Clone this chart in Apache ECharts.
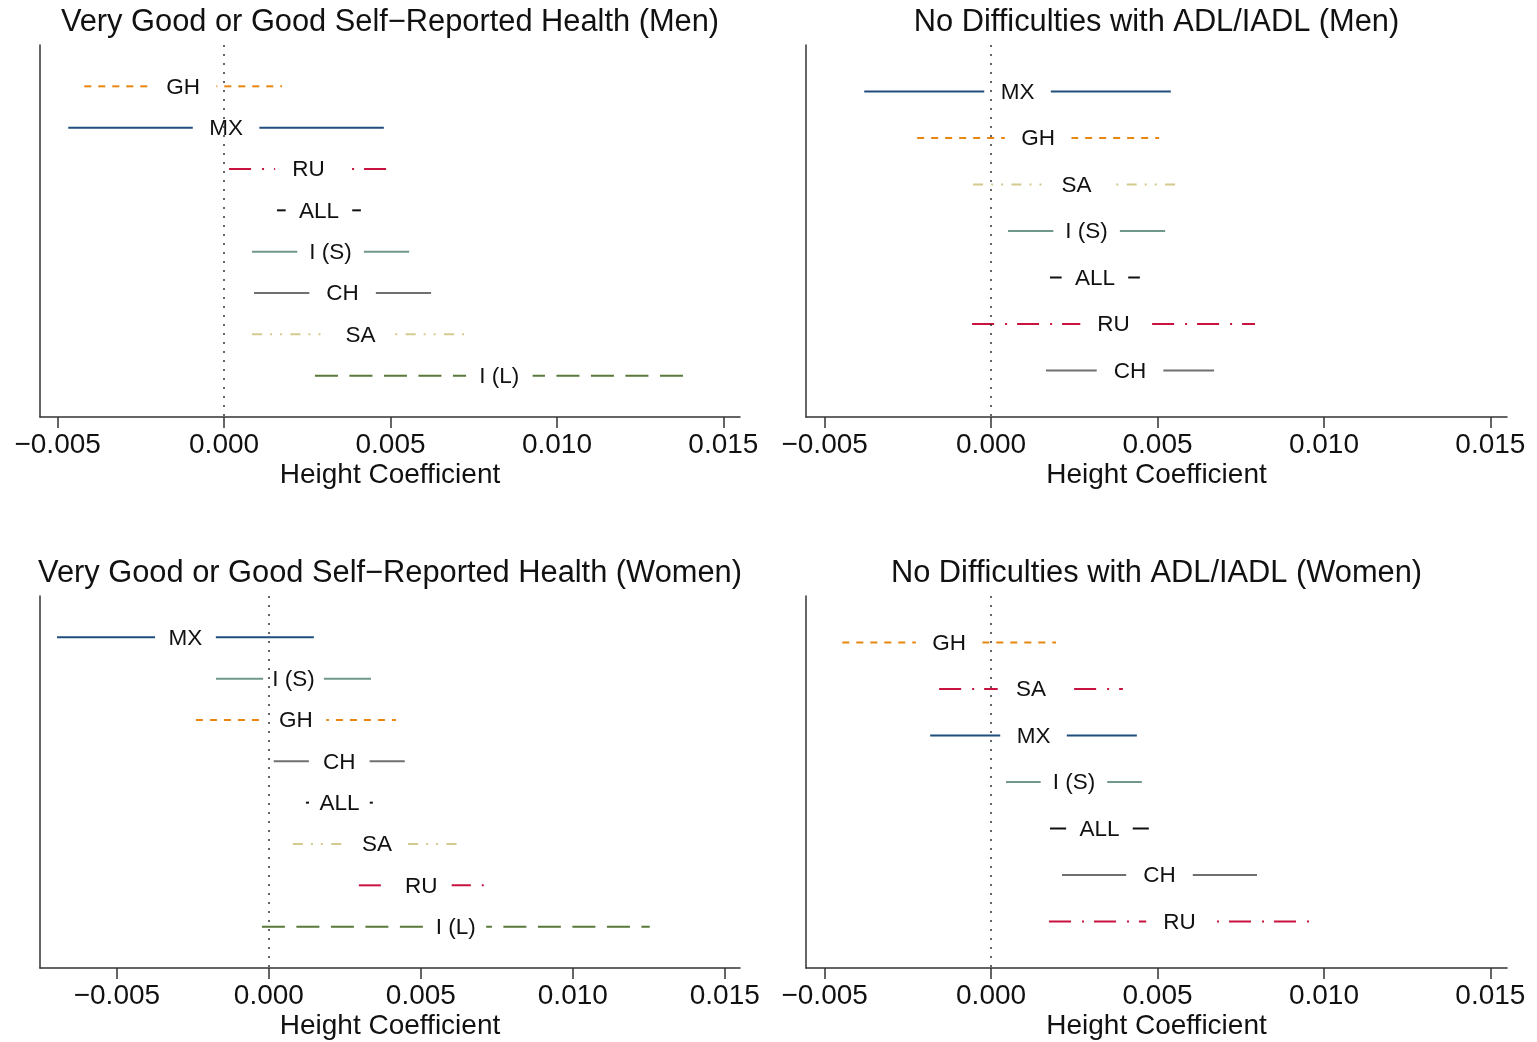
<!DOCTYPE html>
<html>
<head>
<meta charset="utf-8">
<script src="https://cdn.jsdelivr.net/npm/echarts@6/dist/echarts.min.js"></script>
<style>
  html, body { margin: 0; padding: 0; background: #fff; }
  #main { width: 1537px; height: 1042px; }
</style>
</head>
<body>
<div id="main"></div>
<script>
// confidence intervals of the height coefficient, one row per country
var hMenLabels = ["GH", "MX", "RU", "ALL", "I (S)", "CH", "SA", "I (L)"];
var hMenLo = [-0.0042, -0.00468, 0.00015, 0.00159, 0.00084, 0.0009, 0.00084, 0.00273];
var hMenHi = [0.00174, 0.0048, 0.00492, 0.00411, 0.00556, 0.00622, 0.00736, 0.01381];

var adlMenLabels = ["MX", "GH", "SA", "I (S)", "ALL", "RU", "CH"];
var adlMenLo = [-0.00381, -0.00222, -0.00054, 0.00051, 0.00177, -0.00057, 0.00165];
var adlMenHi = [0.0054, 0.00505, 0.00568, 0.00523, 0.00447, 0.00793, 0.0067];

var hWomenLabels = ["MX", "I (S)", "GH", "CH", "ALL", "SA", "RU", "I (L)"];
var hWomenLo = [-0.00697, -0.00174, -0.0024, 0.00016, 0.00122, 0.00079, 0.00296, -0.00023];
var hWomenHi = [0.00148, 0.00336, 0.00418, 0.00447, 0.00342, 0.00632, 0.00707, 0.01253];

var adlWomenLabels = ["GH", "SA", "MX", "I (S)", "ALL", "CH", "RU"];
var adlWomenLo = [-0.00447, -0.00156, -0.00183, 0.00045, 0.00177, 0.00213, 0.00174];
var adlWomenHi = [0.00195, 0.00396, 0.00438, 0.00453, 0.00474, 0.00799, 0.00958];

var xTicks = [-0.005, 0, 0.005, 0.01, 0.015];

var FONT = "'Liberation Sans', Arial, sans-serif";
var GAP = 0.001; // half width of the hole left for the label

var styles = {
  GH: { color: "#E8860F", dash: [7, 7] },
  MX: { color: "#1F4D7C", dash: null },
  RU: { color: "#C8123F", dash: [22, 11, 2, 10] },
  ALL: { color: "#111111", dash: null },
  "I (S)": { color: "#6F978B", dash: null },
  CH: { color: "#707070", dash: null },
  SA: { color: "#D4CA8E", dash: [10, 8, 2, 8, 2, 8.4] },
  "I (L)": { color: "#58793A", dash: [23, 11.5] }
};

var panels = [
  { title: "Very Good or Good Self\u2212Reported Health (Men)", labels: hMenLabels, lo: hMenLo, hi: hMenHi,
    left: 40, top: 45, width: 700, min: -0.00553, max: 0.0155 },
  { title: "No Difficulties with ADL/IADL (Men)", labels: adlMenLabels, lo: adlMenLo, hi: adlMenHi,
    left: 806, top: 45, width: 701, min: -0.00556, max: 0.0155 },
  { title: "Very Good or Good Self\u2212Reported Health (Women)", labels: hWomenLabels, lo: hWomenLo, hi: hWomenHi,
    left: 40, top: 596, width: 700, min: -0.00753, max: 0.0155 },
  { title: "No Difficulties with ADL/IADL (Women)", labels: adlWomenLabels, lo: adlWomenLo, hi: adlWomenHi,
    left: 806, top: 596, width: 701, min: -0.00556, max: 0.0155,
    styleKeys: ["GH", "RU", "MX", "I (S)", "ALL", "CH", "RU"] } // SA drawn like RU in this panel
];

function makeRender(p) {
  return function (params, api) {
    var i = params.dataIndex;
    var row = api.value(0), lo = api.value(1), hi = api.value(2);
    var mid = (lo + hi) / 2;
    var st = styles[p.styleKeys ? p.styleKeys[i] : p.labels[i]];
    var a = api.coord([lo, row]);
    var b = api.coord([Math.max(lo, mid - GAP), row]);
    var c = api.coord([Math.min(hi, mid + GAP), row]);
    var d = api.coord([hi, row]);
    var m = api.coord([mid, row]);
    var base = { stroke: st.color, lineWidth: 2, lineCap: "butt", lineDash: st.dash };
    var kids = [];
    if (b[0] - a[0] > 0.5) {
      kids.push({ type: "line", shape: { x1: a[0], y1: a[1], x2: b[0], y2: b[1] },
        style: Object.assign({}, base, { lineDashOffset: 0 }) });
    } else {
      kids.push({ type: "line", shape: { x1: a[0], y1: a[1], x2: a[0] + 1.5, y2: a[1] },
        style: Object.assign({}, base, { lineDash: null }) });
    }
    if (d[0] - c[0] > 0.5) {
      kids.push({ type: "line", shape: { x1: c[0], y1: c[1], x2: d[0], y2: d[1] },
        style: Object.assign({}, base, { lineDashOffset: c[0] - a[0] }) });
    } else {
      kids.push({ type: "line", shape: { x1: d[0] - 1.5, y1: d[1], x2: d[0], y2: d[1] },
        style: Object.assign({}, base, { lineDash: null }) });
    }
    kids.push({ type: "text", x: m[0], y: m[1] + 1,
      style: { text: p.labels[i], fill: "#111", fontSize: 22.5, fontFamily: FONT,
        align: "center", verticalAlign: "middle" } });
    return { type: "group", children: kids };
  };
}

var option = { animation: false, backgroundColor: "#fff",
  title: [], grid: [], xAxis: [], yAxis: [], series: [] };

panels.forEach(function (p, k) {
  var n = p.labels.length;
  option.title.push({
    text: p.title, left: p.left + p.width / 2, top: p.top - 39, textAlign: "center", padding: 0,
    textStyle: { fontFamily: FONT, fontSize: 30.8, fontWeight: "normal", color: "#111", lineHeight: 34 }
  });
  option.grid.push({ left: p.left, top: p.top, width: p.width, height: 372 });
  option.xAxis.push({
    type: "value", gridIndex: k, min: p.min, max: p.max,
    name: "Height Coefficient", nameLocation: "middle", nameGap: 44,
    nameTextStyle: { fontFamily: FONT, fontSize: 28, color: "#111" },
    axisLine: { show: true, onZero: false, lineStyle: { color: "#333", width: 1.5 } },
    axisTick: { show: true, length: 11, customValues: xTicks, lineStyle: { color: "#333", width: 1.5 } },
    axisLabel: { customValues: xTicks, margin: 14, fontFamily: FONT, fontSize: 28, color: "#111",
      formatter: function (v) { return (v < 0 ? "\u2212" : "") + Math.abs(v).toFixed(3); } },
    splitLine: { show: false }
  });
  option.yAxis.push({
    type: "value", gridIndex: k, min: 0, max: n + 1, inverse: true,
    axisLine: { show: true, onZero: false, lineStyle: { color: "#333", width: 1.5 } },
    axisTick: { show: false }, axisLabel: { show: false }, splitLine: { show: false }
  });
  option.series.push({
    type: "line", xAxisIndex: k, yAxisIndex: k, data: [], silent: true,
    markLine: { symbol: "none", silent: true, label: { show: false },
      lineStyle: { color: "#333", width: 1.5, type: [2, 7] },
      data: [{ xAxis: 0 }] }
  });
  option.series.push({
    type: "custom", xAxisIndex: k, yAxisIndex: k, clip: false,
    renderItem: makeRender(p),
    encode: { x: [1, 2], y: 0 },
    data: p.labels.map(function (lab, i) { return [i + 1, p.lo[i], p.hi[i]]; })
  });
});

var chart = echarts.init(document.getElementById("main"), null, { renderer: "canvas" });
chart.setOption(option);
</script>
</body>
</html>
